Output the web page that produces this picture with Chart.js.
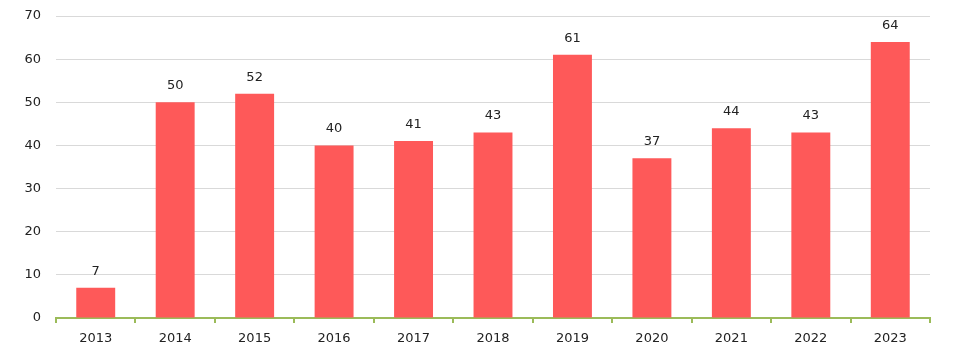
<!DOCTYPE html>
<html>
<head>
<meta charset="utf-8">
<script src="https://cdn.jsdelivr.net/npm/chart.js@4"></script>
<style>
  html, body { margin: 0; padding: 0; background: #fff; }
  #wrap { width: 960px; height: 352px; }
</style>
</head>
<body>
<div id="wrap"><canvas id="yearChart"></canvas></div>
<script>
const years = ["2013", "2014", "2015", "2016", "2017", "2018", "2019", "2020", "2021", "2022", "2023"];
const counts = [7, 50, 52, 40, 41, 43, 61, 37, 44, 43, 64];
const yTicks = [0, 10, 20, 30, 40, 50, 60, 70];

const FONT = "'DejaVu Sans', Verdana, sans-serif";

// simple value labels above each bar
const valueLabels = {
  id: "valueLabels",
  afterDatasetsDraw(chart) {
    const c = chart.ctx;
    const meta = chart.getDatasetMeta(0);
    c.save();
    c.font = "13px " + FONT;
    c.fillStyle = "#222";
    c.textAlign = "center";
    c.textBaseline = "bottom";
    meta.data.forEach(function (bar, i) {
      c.fillText(counts[i], bar.x, bar.y - 10);
    });
    c.restore();
  }
};

new Chart(document.getElementById("yearChart"), {
  type: "bar",
  data: {
    labels: years,
    datasets: [
      {
        data: counts,
        backgroundColor: "#fe5959",
        borderWidth: 0,
        barPercentage: 0.49,
        categoryPercentage: 1.0,
      }
    ]
  },
  options: {
    responsive: true,
    maintainAspectRatio: false,
    animation: false,
    layout: { padding: { top: 16, right: 30, left: 0, bottom: 0 } },
    plugins: {
      legend: { display: false },
      tooltip: { enabled: false }
    },
    scales: {
      x: {
        afterFit: function (scale) { scale.height = 34; },
        border: { display: true, color: "#9bbb59", width: 2 },
        grid: {
          offset: true,
          drawOnChartArea: false,
          drawTicks: true,
          tickLength: 5,
          color: "#9bbb59",
          lineWidth: 2
        },
        ticks: {
          color: "#222",
          font: { family: FONT, size: 13 },
          padding: 8,
          maxRotation: 0
        }
      },
      y: {
        min: 0,
        max: 70,
        afterFit: function (scale) {
          scale.width = 56;
          scale.paddingTop = 0;
        },
        afterBuildTicks: function (scale) {
          scale.ticks = yTicks.map(function (v) { return { value: v }; });
        },
        border: { display: false },
        grid: {
          color: "#d9d9d9",
          lineWidth: 1,
          drawTicks: false
        },
        ticks: {
          color: "#222",
          font: { family: FONT, size: 13 },
          padding: 15
        }
      }
    }
  },
  plugins: [valueLabels]
});
</script>
</body>
</html>
